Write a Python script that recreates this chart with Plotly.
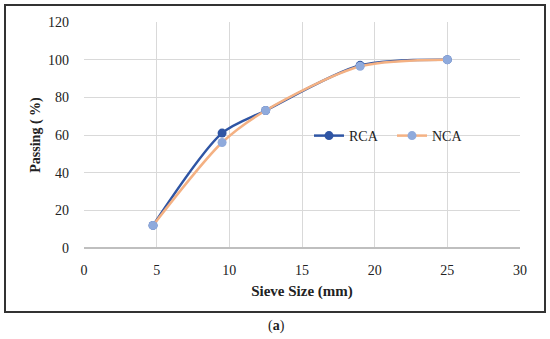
import plotly.graph_objects as go

sieve_rca = [4.75, 9.5, 12.5, 19, 25]
passing_rca = [12, 61, 73, 97, 100]
sieve_nca = [4.75, 9.5, 12.5, 19, 25]
passing_nca = [12, 56, 73, 96.5, 100]

font_family = "Liberation Serif, DejaVu Serif, serif"

fig = go.Figure()
fig.add_trace(go.Scatter(
    x=sieve_rca, y=passing_rca, name="RCA", mode="lines+markers",
    line=dict(color="#2F55A4", width=2.5, shape="spline", smoothing=0.8),
    marker=dict(color="#2F55A4", size=9),
))
fig.add_trace(go.Scatter(
    x=sieve_nca, y=passing_nca, name="NCA", mode="lines+markers",
    line=dict(color="#F4B183", width=2.5, shape="spline", smoothing=0.8),
    marker=dict(color="#8FAADC", size=9),
))

W, H = 550, 339
L, R, T, B = 84, 30, 22, 91
pw, ph = W - L - R, H - T - B

def px_to_paper_x(px):
    return (px - L) / pw

def px_to_paper_y(py):
    return (H - B - py) / ph

fig.update_layout(
    width=W, height=H,
    margin=dict(l=L, r=R, t=T, b=B, autoexpand=False),
    paper_bgcolor="white", plot_bgcolor="white",
    font=dict(family=font_family, size=14, color="#222"),
    showlegend=True,
    legend=dict(
        orientation="h", x=px_to_paper_x(309), y=px_to_paper_y(136),
        xanchor="left", yanchor="middle",
        bgcolor="rgba(0,0,0,0)", font=dict(size=14, color="#222"),
        entrywidth=38, itemwidth=30,
    ),
    xaxis=dict(
        range=[0, 30], dtick=5, showgrid=True, gridcolor="#D9D9D9", gridwidth=1,
        zeroline=False, showline=False, ticks="", tickfont=dict(size=14),
        ticklabelstandoff=12,
        title=dict(text="<b>Sieve Size (mm)</b>", font=dict(size=15), standoff=8),
        fixedrange=True, automargin=False,
    ),
    yaxis=dict(
        range=[0, 120], dtick=20, showgrid=True, gridcolor="#D9D9D9", gridwidth=1,
        zeroline=True, zerolinecolor="#BFBFBF", showline=False, ticks="",
        tickfont=dict(size=14), ticklabelstandoff=14,
        title=dict(text="<b>Passing ( %)</b>", font=dict(size=14), standoff=4),
        fixedrange=True, automargin=False,
    ),
    shapes=[
        dict(type="rect", xref="paper", yref="paper",
             x0=px_to_paper_x(5), x1=px_to_paper_x(545),
             y0=px_to_paper_y(312), y1=px_to_paper_y(5),
             line=dict(color="#333", width=2), fillcolor="rgba(0,0,0,0)", layer="below"),
    ],
    annotations=[
        dict(text="(<b>a</b>)", xref="paper", yref="paper",
             x=px_to_paper_x(276), y=px_to_paper_y(326),
             showarrow=False, font=dict(size=14), xanchor="center", yanchor="middle"),
    ],
)

fig.write_html(
    "out.html",
    config={"displayModeBar": False},
    post_script="document.body.style.margin='0';document.body.style.padding='0';",
)
